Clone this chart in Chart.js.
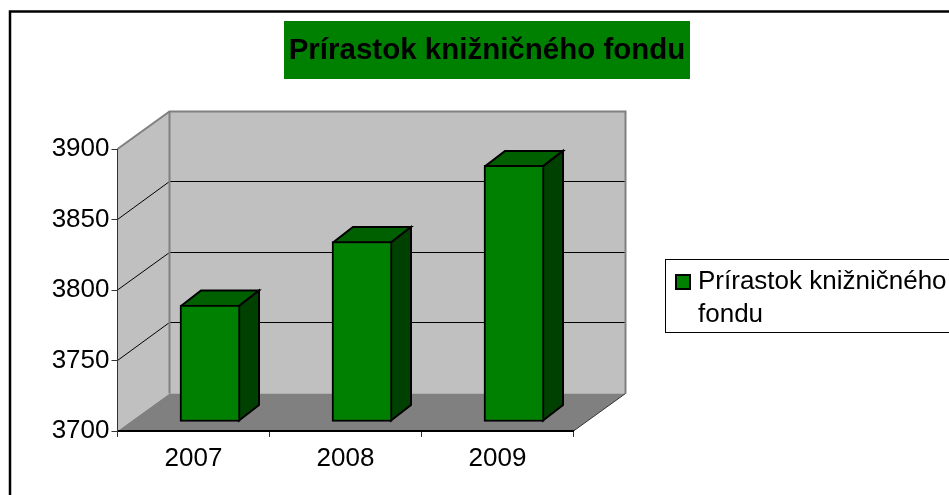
<!DOCTYPE html>
<html>
<head>
<meta charset="utf-8">
<title>Prírastok knižničného fondu</title>
<script src="https://cdn.jsdelivr.net/npm/chart.js@4/dist/chart.umd.js"></script>
<style>
    html, body { margin: 0; padding: 0; background: #fff; }
    canvas { display: block; }
</style>
</head>
<body>
<canvas id="bookChart" width="949" height="495"></canvas>
<script>
const years = ['2007', '2008', '2009'];
const increments = [3783, 3828, 3882];
const chartTitle = 'Prírastok knižničného fondu';
const legendLines = ['Prírastok knižničného', 'fondu'];
const yMin = 3700;
const yMax = 3900;
const yStep = 50;

const FONT = '"Liberation Sans", Arial, sans-serif';
// projection of the 3D box: wall depth and bar depth
const WALL_DX = 52, WALL_DY = 37.5;
const BAR_SHIFT_X = 16.5, BAR_SHIFT_Y = 9;
const BAR_DX = 20, BAR_DY = 15.5;

function fillPoly(ctx, pts, color) {
    ctx.beginPath();
    pts.forEach((p, i) => i ? ctx.lineTo(p[0], p[1]) : ctx.moveTo(p[0], p[1]));
    ctx.closePath();
    ctx.fillStyle = color;
    ctx.fill();
}

function strokeLine(ctx, pts, color, width) {
    ctx.beginPath();
    pts.forEach((p, i) => i ? ctx.lineTo(p[0], p[1]) : ctx.moveTo(p[0], p[1]));
    ctx.strokeStyle = color;
    ctx.lineWidth = width;
    ctx.stroke();
}

const box3d = {
    id: 'box3d',
    afterLayout(chart) {
        // title and legend sit away from the plot, move them there
        const t = chart.titleBlock;
        t.left = 284; t.right = 690; t.top = 36; t.bottom = 66;
        const l = chart.legend;
        l.left = 671; l.right = 949; l.top = 259; l.bottom = 333;
    },
    beforeDraw(chart) {
        const ctx = chart.ctx;
        const y = chart.scales.y;
        const { left, right } = chart.chartArea;
        const top = y.getPixelForValue(yMax);
        const bottom = y.getPixelForValue(yMin);
        const bl = left + WALL_DX, br = right + WALL_DX;
        const bt = top - WALL_DY, bb = bottom - WALL_DY;

        ctx.save();
        // outer frame, cut off by the picture on the right and bottom
        strokeLine(ctx, [[10, 495], [10, 11.5], [949, 11.5]], '#000', 2.5);

        // title background
        ctx.fillStyle = '#008000';
        ctx.fillRect(284, 21, 406, 58);

        // legend frame
        ctx.strokeStyle = '#000';
        ctx.lineWidth = 1;
        ctx.strokeRect(665.5, 259.5, 300, 73);

        // walls and floor
        fillPoly(ctx, [[bl, bt], [br, bt], [br, bb], [bl, bb]], '#c0c0c0');
        fillPoly(ctx, [[left, top], [bl, bt], [bl, bb], [left, bottom]], '#c0c0c0');
        fillPoly(ctx, [[left, bottom], [bl, bb], [br, bb], [right, bottom]], '#808080');

        // gridlines follow the y scale across the side wall and back wall
        y.ticks.forEach(tick => {
            const py = y.getPixelForValue(tick.value);
            if (tick.value !== yMin && tick.value !== yMax) {
                const gy = Math.floor(py - WALL_DY - 0.5) + 0.5;
                strokeLine(ctx, [[left, py], [bl, gy], [br, gy]], '#000', 1);
            }
        });

        strokeLine(ctx, [[left, top], [bl, bt], [br, bt], [br, bb]], '#808080', 2);
        strokeLine(ctx, [[bl, bt], [bl, bb]], '#808080', 2);
        strokeLine(ctx, [[right, bottom], [br, bb]], '#333', 1);
        ctx.restore();
    },
    beforeDatasetDraw(chart, args) {
        const ctx = chart.ctx;
        ctx.save();
        ctx.translate(BAR_SHIFT_X, -BAR_SHIFT_Y);
        args.meta.data.forEach(bar => {
            const p = bar.getProps(['x', 'y', 'base', 'width'], true);
            const l = p.x - p.width / 2 + 1, r = p.x + p.width / 2 - 1;
            const t = p.y + 1, b = p.base - 1;
            const topFace = [[l, t], [l + BAR_DX, t - BAR_DY], [r + BAR_DX, t - BAR_DY], [r, t]];
            const sideFace = [[r, t], [r + BAR_DX, t - BAR_DY], [r + BAR_DX, b - BAR_DY], [r, b]];
            fillPoly(ctx, topFace, '#006000');
            strokeLine(ctx, topFace.concat([topFace[0]]), '#000', 2);
            fillPoly(ctx, sideFace, '#004000');
            strokeLine(ctx, sideFace.concat([sideFace[0]]), '#000', 2);
        });
    },
    afterDatasetDraw(chart) {
        chart.ctx.restore();
    }
};

new Chart(document.getElementById('bookChart').getContext('2d'), {
    type: 'bar',
    data: {
        labels: years,
        datasets: [{
            label: chartTitle,
            data: increments,
            base: yMin,
            backgroundColor: '#008000',
            borderColor: '#000',
            borderWidth: 2,
            borderSkipped: false,
            barThickness: 60,
            clip: false
        }]
    },
    options: {
        responsive: false,
        animation: false,
        layout: { padding: { top: 119.5, right: 375.5, bottom: 0, left: 0 } },
        plugins: {
            tooltip: { enabled: false },
            title: {
                display: true,
                text: chartTitle,
                color: '#000',
                padding: 0,
                font: { family: FONT, size: 29.5, weight: 'bold', lineHeight: 1 }
            },
            legend: {
                position: 'chartArea',
                align: 'start',
                labels: {
                    color: '#000',
                    padding: 10,
                    boxWidth: 4,
                    boxHeight: 14,
                    usePointStyle: true,
                    font: { family: FONT, size: 26, lineHeight: 1.25 },
                    generateLabels: () => [{
                        text: legendLines,
                        fontColor: '#000',
                        textAlign: 'left',
                        fillStyle: '#008000',
                        strokeStyle: '#000',
                        lineWidth: 2,
                        pointStyle: 'rect',
                        hidden: false,
                        datasetIndex: 0
                    }]
                }
            }
        },
        scales: {
            x: {
                afterFit(scale) { scale.height = 64; },
                border: { color: '#000', width: 2 },
                grid: { drawOnChartArea: false, offset: true, tickLength: 6, tickColor: '#333' },
                ticks: { color: '#000', font: { family: FONT, size: 26 }, padding: 6, maxRotation: 0 }
            },
            y: {
                min: yMin,
                max: yMax,
                afterFit(scale) { scale.width = 117.5; },
                border: { color: '#333', width: 1 },
                grid: { drawOnChartArea: false, tickLength: 6, tickColor: '#333' },
                ticks: {
                    color: '#000',
                    font: { family: FONT, size: 26 },
                    padding: 2,
                    stepSize: yStep,
                    format: { useGrouping: false }
                }
            }
        }
    },
    plugins: [box3d]
});
</script>
</body>
</html>
